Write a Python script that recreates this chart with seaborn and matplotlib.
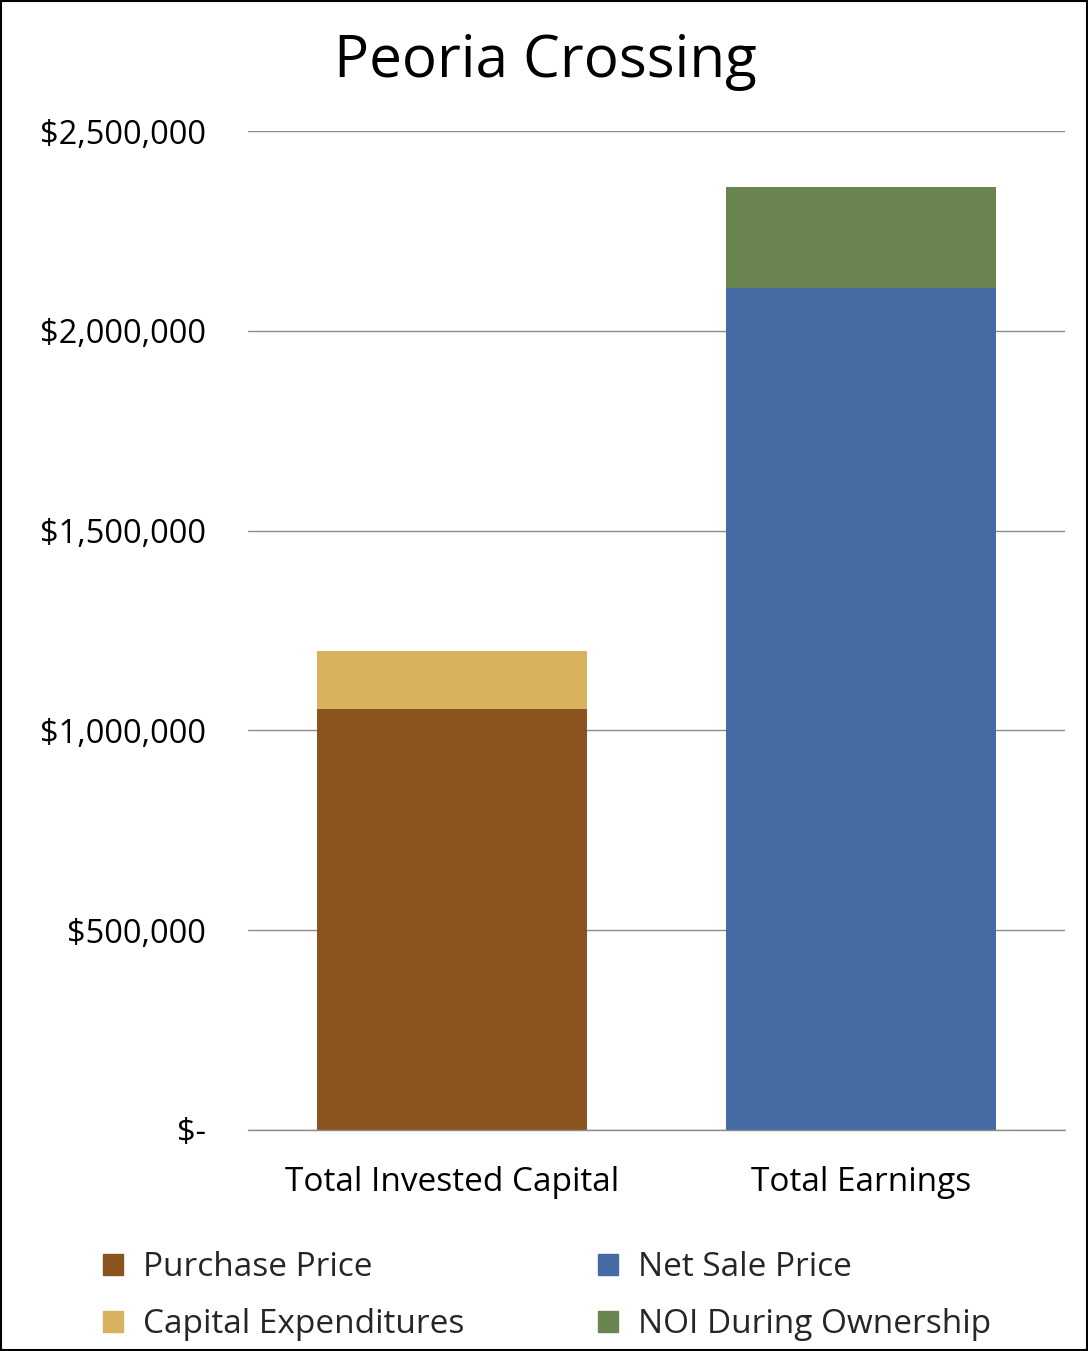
import numpy as np
import seaborn as sns
import matplotlib.pyplot as plt
from matplotlib.patches import Patch, Rectangle
from matplotlib.ticker import FuncFormatter

categories = ['Total Invested Capital', 'Total Earnings']
base_labels = ['Purchase Price', 'Net Sale Price']
top_labels = ['Capital Expenditures', 'NOI During Ownership']
base_values = [1053000, 2107000]
top_values = [146000, 253000]
y_ticks = [0, 500000, 1000000, 1500000, 2000000, 2500000]

base_colors = ['#8B541E', '#466BA4']
top_colors = ['#D8B25E', '#6A8550']

sns.set_theme(style='white')
plt.rcParams['font.family'] = ['Open Sans', 'DejaVu Sans']

fig = plt.figure(figsize=(10.88, 13.51), dpi=100)
ax = fig.add_axes([248 / 1088, 1 - 1130 / 1351, 817 / 1088, 999 / 1351])

totals = np.array(base_values) + np.array(top_values)
sns.barplot(x=categories, y=totals, hue=categories, palette=top_colors,
            width=0.66, ax=ax, legend=False, saturation=1, linewidth=0, zorder=3)
sns.barplot(x=categories, y=base_values, hue=categories, palette=base_colors,
            width=0.66, ax=ax, legend=False, saturation=1, linewidth=0, zorder=3)

ax.set_ylim(0, 2500000)
ax.set_xlim(-0.5, 1.5)
ax.set_yticks(y_ticks)


def money(v, pos):
    if v == 0:
        return '$-'
    return '${:,.0f}'.format(v)


ax.yaxis.set_major_formatter(FuncFormatter(money))
ax.grid(axis='y', color='#8c8c8c', linewidth=1, zorder=0)
ax.set_axisbelow(True)
for s in ax.spines.values():
    s.set_visible(False)
ax.axhline(0, color='#8c8c8c', linewidth=1, zorder=4, clip_on=False)
ax.tick_params(axis='y', length=0, pad=30, labelsize=23.5, labelcolor='black')
ax.tick_params(axis='x', length=0, pad=26, labelsize=24, labelcolor='black')
ax.set_xlabel('')
ax.set_ylabel('')

fig.text(545 / 1088, 1 - 62 / 1351, 'Peoria Crossing', ha='center', va='center',
         fontsize=42, color='black')

handles = [Patch(color=base_colors[0]), Patch(color=top_colors[0]),
           Patch(color=base_colors[1]), Patch(color=top_colors[1])]
labels = [base_labels[0], top_labels[0], base_labels[1], top_labels[1]]
fig.legend(handles, labels, ncol=2, loc='center left',
           bbox_to_anchor=(73 / 1088, 1 - 1296 / 1351), frameon=False,
           fontsize=24, handlelength=0.6, handleheight=0.6,
           handletextpad=0.6, labelspacing=0.73, columnspacing=4.0)

fig.patches.append(Rectangle((0.001, 0.001), 0.998, 0.998, transform=fig.transFigure,
                             fill=False, edgecolor='black', linewidth=1.5))

fig.savefig('out.png', dpi=100)
